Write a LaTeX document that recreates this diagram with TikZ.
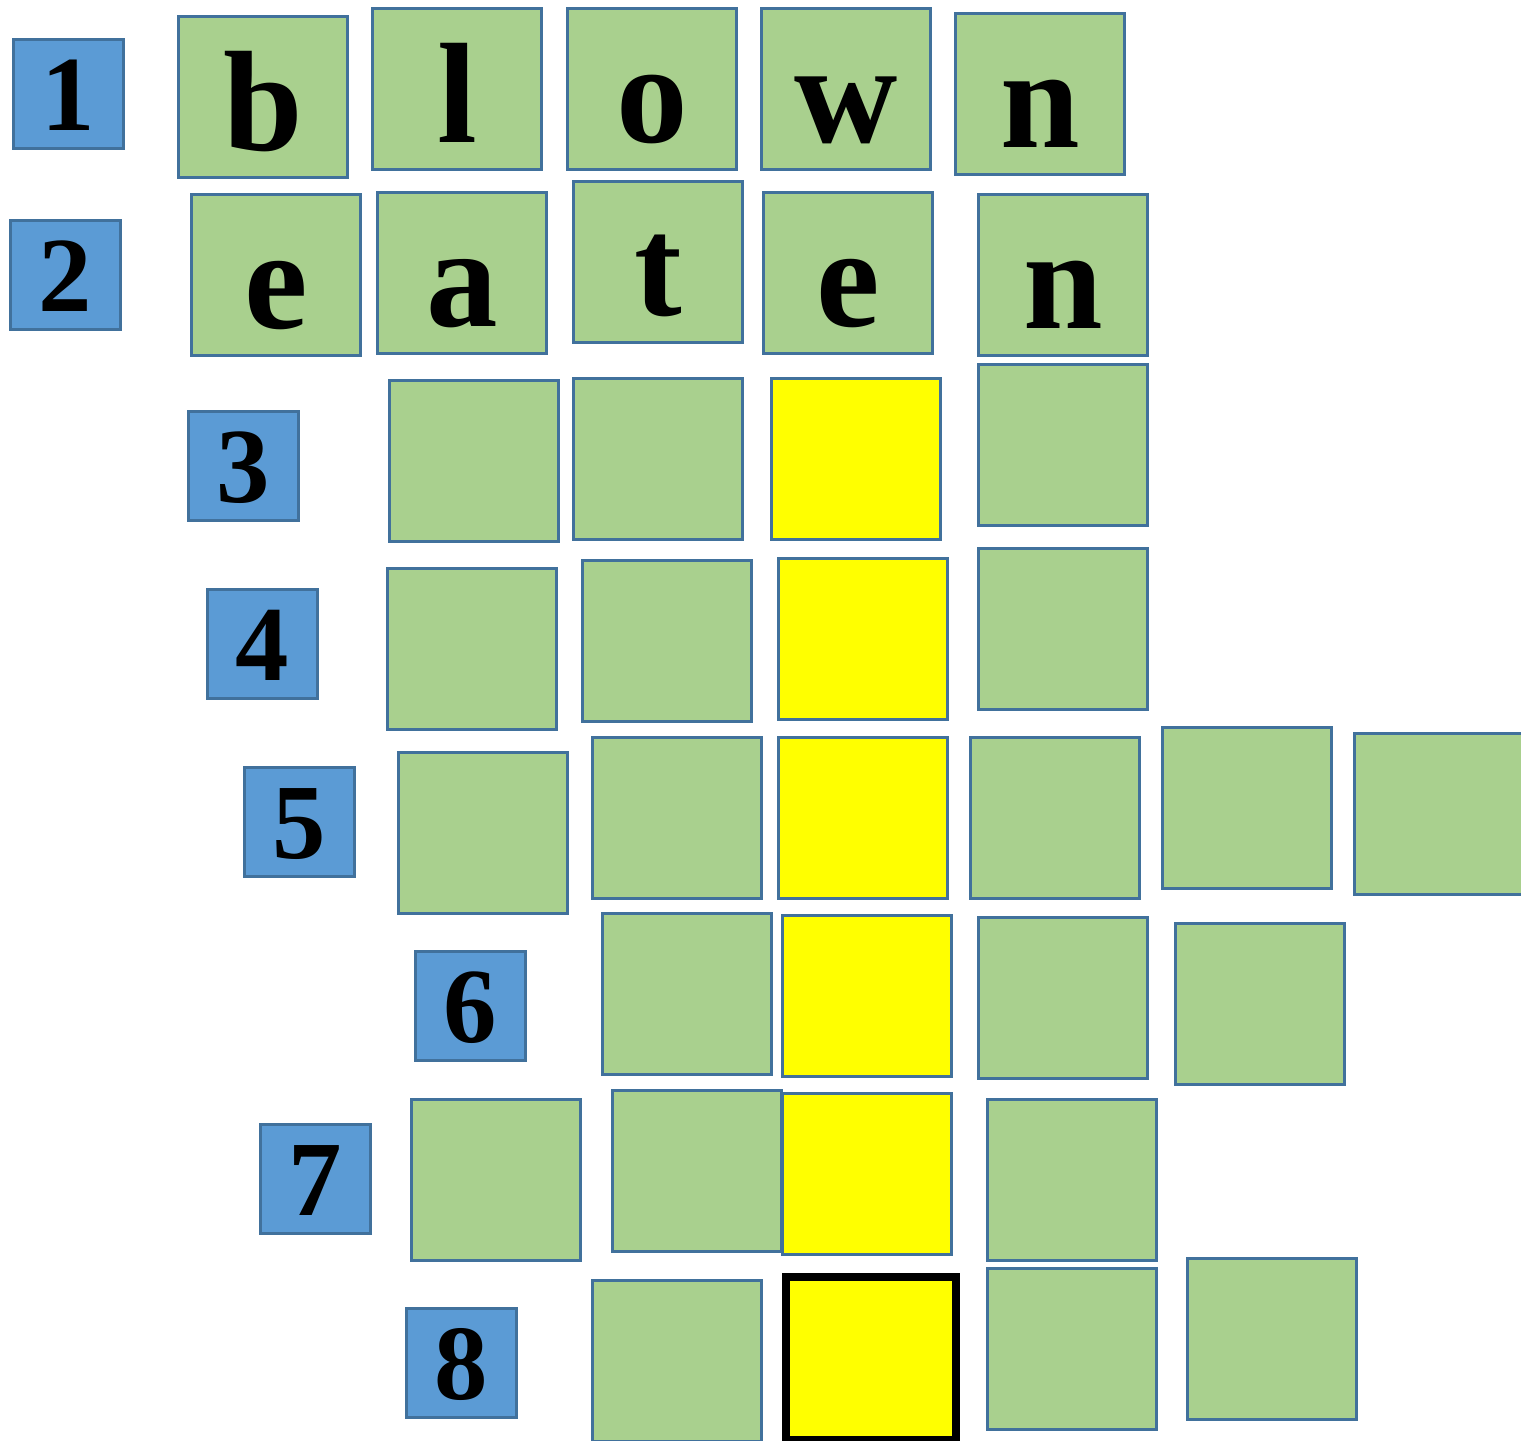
\documentclass[tikz,border=0pt]{standalone}
\usepackage{fontspec}
\setmainfont{Liberation Serif}
\usepackage{xcolor}
\definecolor{clCell}{HTML}{A9D08E}
\definecolor{clEdge}{HTML}{41719C}
\definecolor{clNum}{HTML}{5B9BD5}
\definecolor{clKey}{HTML}{FFFF00}
\usetikzlibrary{positioning}
\tikzset{
  cell/.style={rectangle, draw=clEdge, fill=clCell, line width=0.85pt, anchor=north west,
               inner sep=0pt, minimum width=16.9mm, minimum height=16.1mm,
               text height=13.4mm, text depth=2.7mm,
               font=\fontsize{40.7}{48}\selectfont\bfseries},
  keycell/.style={cell, fill=clKey},
  answer/.style={keycell, draw=black, line width=2.3pt, minimum width=17.0mm, minimum height=16.3mm},
  numbox/.style={rectangle, draw=clEdge, fill=clNum, line width=0.85pt, anchor=north west,
                 inner sep=0pt, minimum width=11.0mm, minimum height=10.9mm,
                 text height=9.1mm, text depth=1.8mm,
                 font=\fontsize{30.4}{36}\selectfont\bfseries},
}
\begin{document}
\begin{tikzpicture}[x=0.1mm, y=-0.1mm]
  \useasboundingbox (0,0) rectangle (1521,1440);
  % row 1
  \node[numbox] (q1) at (12,38) {1};
  \node[cell] (c11) at (177,15) {b};
  \node[cell] (c12) at (371,7) {l};
  \node[cell] (c13) at (566,7) {o};
  \node[cell] (c14) at (760,7) {w};
  \node[cell] (c15) at (954,12) {n};
  % row 2
  \node[numbox] (q2) at (9,219) {2};
  \node[cell] (c21) at (190,193) {e};
  \node[cell] (c22) at (376,191) {a};
  \node[cell] (c23) at (572,180) {t};
  \node[cell] (c24) at (762,191) {e};
  \node[cell] (c25) at (977,193) {n};
  % row 3
  \node[numbox] (q3) at (187,410) {3};
  \node[cell] (c31) at (388,379) {};
  \node[cell] (c32) at (572,377) {};
  \node[keycell] (c33) at (770,377) {};
  \node[cell] (c34) at (977,363) {};
  % row 4
  \node[numbox] (q4) at (206,588) {4};
  \node[cell] (c41) at (386,567) {};
  \node[cell] (c42) at (581,559) {};
  \node[keycell] (c43) at (777,557) {};
  \node[cell] (c44) at (977,547) {};
  % row 5
  \node[numbox] (q5) at (243,766) {5};
  \node[cell] (c51) at (397,751) {};
  \node[cell] (c52) at (591,736) {};
  \node[keycell] (c53) at (777,736) {};
  \node[cell] (c54) at (969,736) {};
  \node[cell] (c55) at (1161,726) {};
  \node[cell] (c56) at (1353,732) {};
  % row 6
  \node[numbox] (q6) at (414,950) {6};
  \node[cell] (c61) at (601,912) {};
  \node[keycell] (c62) at (781,914) {};
  \node[cell] (c63) at (977,916) {};
  \node[cell] (c64) at (1174,922) {};
  % row 7
  \node[numbox] (q7) at (259,1123) {7};
  \node[cell] (c71) at (410,1098) {};
  \node[cell] (c72) at (611,1089) {};
  \node[keycell] (c73) at (781,1092) {};
  \node[cell] (c74) at (986,1098) {};
  % row 8
  \node[numbox] (q8) at (405,1307) {8};
  \node[cell] (c81) at (591,1279) {};
  \node[answer] (c82) at (782,1273) {};
  \node[cell] (c83) at (986,1267) {};
  \node[cell] (c84) at (1186,1257) {};
\end{tikzpicture}
\end{document}
